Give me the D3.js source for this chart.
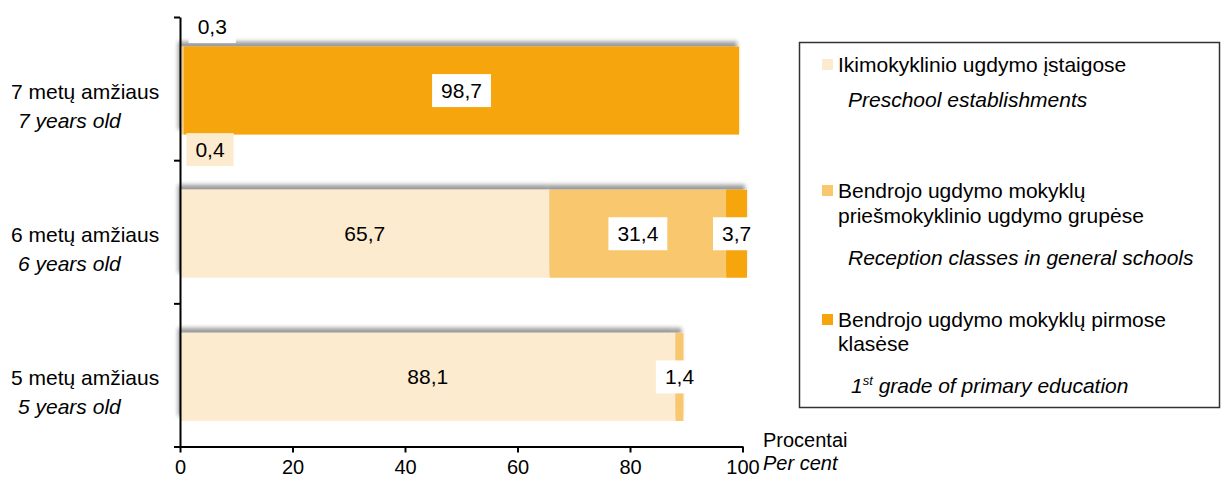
<!DOCTYPE html>
<html>
<head>
<meta charset="utf-8">
<script src="https://cdn.jsdelivr.net/npm/d3@7"></script>
<style>
  body { margin: 0; background: #fff; }
  text { font-family: "Liberation Sans", Arial, sans-serif; fill: #000; }
</style>
</head>
<body>
<div class="chart"></div>
<script>
// categories, top to bottom
const catLt = ['7 metų amžiaus', '6 metų amžiaus', '5 metų amžiaus'];
const catEn = ['7 years old', '6 years old', '5 years old'];

// per cent, same order as categories
const preschool  = [0.4, 65.7, 88.1];
const reception  = [0.3, 31.4, 1.4];
const firstGrade = [98.7, 3.7, 0];

const xTicks = [0, 20, 40, 60, 80, 100];

const legendLt = [
  ['Ikimokyklinio ugdymo įstaigose'],
  ['Bendrojo ugdymo mokyklų', 'priešmokyklinio ugdymo grupėse'],
  ['Bendrojo ugdymo mokyklų pirmose', 'klasėse']
];
const legendEn = ['Preschool establishments', 'Reception classes in general schools', 'grade of primary education'];

const colors = ['#fdebcf', '#f8c76e', '#f6a50c'];
const series = [preschool, reception, firstGrade];

const W = 1221, H = 479;
const plot = {left: 180, right: 742.5, top: 17, bottom: 446.5};

const svg = d3.select('.chart').append('svg')
    .attr('width', W)
    .attr('height', H);

const defs = svg.append('defs');
const f = defs.append('filter').attr('id', 'shadow')
    .attr('x', '-5%').attr('y', '-40%').attr('width', '110%').attr('height', '180%');
f.append('feOffset').attr('in', 'SourceAlpha').attr('dx', -2).attr('dy', -5).attr('result', 'off');
f.append('feGaussianBlur').attr('in', 'off').attr('stdDeviation', 2).attr('result', 'blur');
f.append('feComponentTransfer').attr('in', 'blur').attr('result', 'sh')
  .append('feFuncA').attr('type', 'linear').attr('slope', 0.4);
const fm = f.append('feMerge');
fm.append('feMergeNode').attr('in', 'sh');
fm.append('feMergeNode').attr('in', 'SourceGraphic');

const x = d3.scaleLinear()
    .domain([0, 100])
    .range([plot.left, plot.right]);

const y = d3.scaleBand()
    .domain(catLt)
    .range([plot.top, plot.bottom])
    .paddingInner(0.385)
    .paddingOuter(0.1925);

// stacked rows
const rows = catLt.map((c, i) => {
  let acc = 0;
  return series.map((s, k) => {
    const seg = {cat: c, k: k, v: s[i], x0: acc, x1: acc + s[i]};
    acc += s[i];
    return seg;
  });
});

const bars = svg.append('g');
rows.forEach(row => {
  bars.append('g')
    .attr('filter', 'url(#shadow)')
    .selectAll('rect')
    .data(row.filter(d => d.v > 0))
    .enter()
    .append('rect')
    .attr('x', d => x(d.x0))
    .attr('y', d => y(d.cat) + 2)
    .attr('width', d => x(d.x1) - x(d.x0))
    .attr('height', y.bandwidth())
    .attr('fill', d => colors[d.k]);
});

// axes
const yEdges = d3.scaleLinear().domain([0, catLt.length]).range([plot.bottom, plot.top]);
const Yaxis = svg.append('g')
    .attr('transform', `translate(${plot.left},0)`)
    .call(d3.axisLeft(yEdges).ticks(catLt.length).tickSize(6).tickSizeOuter(0).tickFormat(''));
Yaxis.selectAll('line, path').attr('stroke', '#000').attr('stroke-width', 2);

const Xaxis = svg.append('g')
    .attr('transform', `translate(0,${plot.bottom})`)
    .call(d3.axisBottom(x).tickValues(xTicks).tickSize(6).tickSizeOuter(0).tickPadding(7));
Xaxis.selectAll('line, path').attr('stroke', '#000').attr('stroke-width', 2);
Xaxis.selectAll('text')
    .attr('font-size', 20)
    .attr('font-family', '"Liberation Sans", Arial, sans-serif')
    .attr('fill', '#000');

svg.append('text')
    .attr('x', 763).attr('y', 447)
    .attr('font-size', 20)
    .text('Procentai');
svg.append('text')
    .attr('x', 763).attr('y', 470)
    .attr('font-size', 20)
    .attr('font-style', 'italic')
    .text('Per cent');

// category labels
const cats = svg.append('g');
catLt.forEach((c, i) => {
  const cy = y(c) + y.bandwidth() / 2;
  cats.append('text')
    .attr('x', 11).attr('y', cy + 10)
    .attr('font-size', 21)
    .text(c);
  cats.append('text')
    .attr('x', 18).attr('y', cy + 39)
    .attr('font-size', 21)
    .attr('font-style', 'italic')
    .text(catEn[i]);
});

// data labels
const fmt = v => d3.format('.1f')(v).replace('.', ',');
const labels = svg.append('g');
rows.flat().filter(d => d.v > 0).forEach(d => {
  const top = y(d.cat) + 2, bh = y.bandwidth();
  let cx = x((d.x0 + d.x1) / 2), cy = top + bh / 2;
  if (d.v < 1) {
    cx = x(d.x0) + 30;
    cy = d.k === 0 ? top + bh + 15 : top - 20;
  }
  const g = labels.append('g');
  const t = g.append('text')
    .attr('x', cx).attr('y', cy)
    .attr('dy', '0.36em')
    .attr('text-anchor', 'middle')
    .attr('font-size', 21)
    .text(fmt(d.v));
  const w = t.node().getComputedTextLength();
  g.insert('rect', 'text')
    .attr('x', cx - w / 2 - 9)
    .attr('y', cy - 16.5)
    .attr('width', w + 18)
    .attr('height', 33)
    .attr('fill', d.k === 0 ? colors[0] : '#fff');
});

// legend
const lg = svg.append('g');
lg.append('rect')
    .attr('x', 799.5).attr('y', 42.5)
    .attr('width', 420).attr('height', 365)
    .attr('fill', '#fff')
    .attr('stroke', '#333')
    .attr('stroke-width', 1.5);

const ltY = [[72], [198, 223], [327, 351]];
const enY = [107, 265, 393];
legendLt.forEach((lines, k) => {
  lg.append('rect')
    .attr('x', 822).attr('y', ltY[k][0] - 13)
    .attr('width', 11).attr('height', 11)
    .attr('fill', colors[k]);
  lines.forEach((ln, j) => {
    lg.append('text')
      .attr('x', 838).attr('y', ltY[k][j])
      .attr('font-size', 21)
      .text(ln);
  });
  const en = lg.append('text')
    .attr('x', 848).attr('y', enY[k])
    .attr('font-size', 21)
    .attr('font-style', 'italic');
  if (k === 2) {
    en.attr('x', 851);
    en.append('tspan').text('1');
    en.append('tspan').attr('dy', -8).attr('font-size', 13).text('st');
    en.append('tspan').attr('dy', 8).text(' ' + legendEn[k]);
  } else {
    en.text(legendEn[k]);
  }
});
</script>
</body>
</html>
